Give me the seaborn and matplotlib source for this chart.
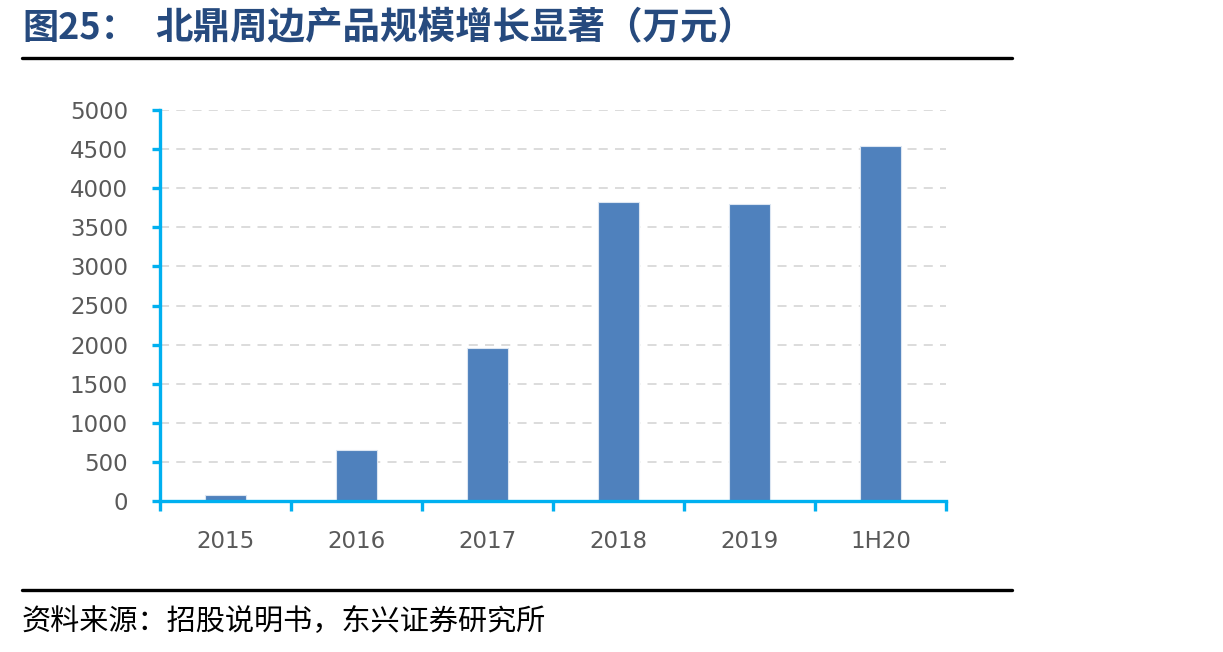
import seaborn as sns
import matplotlib.pyplot as plt
from matplotlib.lines import Line2D
from matplotlib.ticker import MultipleLocator, FixedLocator

# Datos
categorias = ['2015', '2016', '2017', '2018', '2019', '1H20']
valores = [75, 650, 1960, 3820, 3800, 4540]

titulo_num = '图25：'
titulo = '北鼎周边产品规模增长显著（万元）'
fuente = '资料来源：招股说明书，东兴证券研究所'

sns.set_style('white')
plt.rcParams['font.family'] = ['DejaVu Sans', 'Noto Sans CJK SC']

fig = plt.figure(figsize=(12.23, 6.52), dpi=100)
ax = fig.add_axes([160 / 1223, 151 / 652, 786 / 1223, 391 / 652])

sns.barplot(x=categorias, y=valores, ax=ax, color='#4F81BD', saturation=1,
            width=0.31, edgecolor='#DCE6F2', linewidth=0.8, zorder=3)

ax.set_ylim(0, 5000)
ax.set_xlim(-0.5, len(categorias) - 0.5)
ax.yaxis.set_major_locator(MultipleLocator(500))
ax.grid(axis='y', color='#D9D9D9', linestyle=(0, (5, 4)), linewidth=1.3, zorder=0)
ax.set_xlabel('')
ax.set_ylabel('')

azul = '#00B0F0'
for lado in ['top', 'right']:
    ax.spines[lado].set_visible(False)
for lado in ['left', 'bottom']:
    ax.spines[lado].set_color(azul)
    ax.spines[lado].set_linewidth(2.4)
    ax.spines[lado].set_zorder(4)

ax.tick_params(axis='y', which='major', direction='out', length=6, width=2.4,
               color=azul, labelsize=16.5, labelcolor='#595959', pad=17, left=True)
ax.tick_params(axis='x', which='major', length=0, labelsize=16.5,
               labelcolor='#595959', pad=21)
ax.xaxis.set_minor_locator(FixedLocator([i - 0.5 for i in range(len(categorias) + 1)]))
ax.tick_params(axis='x', which='minor', direction='out', length=7.5, width=2.4,
               color=azul, bottom=True)

# Título
fig.text(22 / 1223, 1 - 28 / 652, titulo_num, fontsize=26, fontweight='bold',
         color='#264A7E', va='center', ha='left', family=['Noto Sans CJK SC'])
fig.text(155 / 1223, 1 - 28 / 652, titulo, fontsize=27, fontweight='bold',
         color='#264A7E', va='center', ha='left', family=['Noto Sans CJK SC'])

# Líneas
fig.add_artist(Line2D([22 / 1223, 1012 / 1223], [1 - 58 / 652, 1 - 58 / 652],
                      color='black', linewidth=2.4))
fig.add_artist(Line2D([22 / 1223, 1012 / 1223], [1 - 590 / 652, 1 - 590 / 652],
                      color='black', linewidth=2.4))

# Fuente
fig.text(22 / 1223, 1 - 622 / 652, fuente, fontsize=21, color='black',
         va='center', ha='left', family=['Noto Sans CJK SC'], fontweight='light')

plt.savefig('out.png', dpi=100)
